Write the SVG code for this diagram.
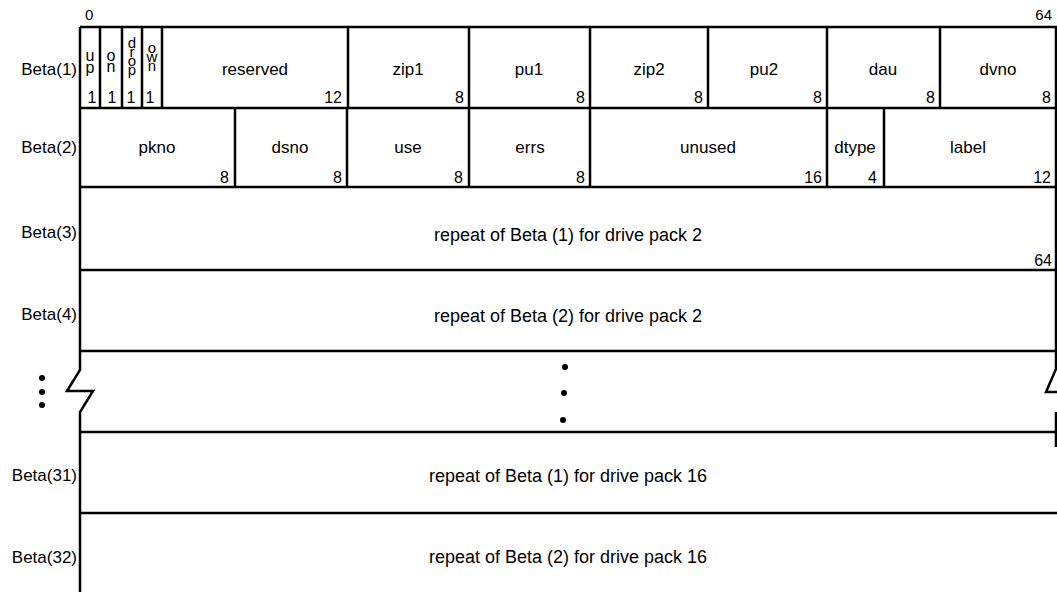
<svg xmlns="http://www.w3.org/2000/svg" width="1057" height="592" viewBox="0 0 1057 592">
<style>
  text { font-family: "Liberation Sans", Arial, sans-serif; fill: #000; }
  .lbl { font-size: 17px; text-anchor: middle; }
  .num { font-size: 16px; text-anchor: end; }
  .one { font-size: 16px; text-anchor: middle; }
  .row { font-size: 17px; text-anchor: end; }
  .rep { font-size: 18px; text-anchor: middle; }
  .stk { font-size: 16px; text-anchor: middle; }
  .stk2 { font-size: 15px; text-anchor: middle; }
  .ln { stroke: #000; stroke-width: 2.5; fill: none; stroke-linejoin: miter; }
  .dot { fill: #000; }
</style>
<rect width="1057" height="592" fill="#fff"/>

<g id="scale">
  <text x="85" y="20" style="font-size:15px">0</text>
  <text x="1052" y="20" class="num" style="font-size:15px">64</text>
</g>

<g id="row-labels">
  <text x="77" y="75" class="row">Beta(1)</text>
  <text x="77" y="153" class="row">Beta(2)</text>
  <text x="77" y="238" class="row">Beta(3)</text>
  <text x="77" y="320" class="row">Beta(4)</text>
  <text x="77" y="481" class="row">Beta(31)</text>
  <text x="77" y="563" class="row">Beta(32)</text>
</g>

<g id="connectors">
  <line class="ln" x1="80" y1="27" x2="1057" y2="27"/>
  <line class="ln" x1="80" y1="108" x2="1057" y2="108"/>
  <line class="ln" x1="80" y1="187" x2="1057" y2="187"/>
  <line class="ln" x1="80" y1="270" x2="1057" y2="270"/>
  <line class="ln" x1="80" y1="351" x2="1057" y2="351"/>
  <line class="ln" x1="80" y1="432" x2="1057" y2="432"/>
  <line class="ln" x1="80" y1="513" x2="1057" y2="513"/>
  <polyline class="ln" points="80,27 80,370 67,391 93,391 80,412 80,592"/>
  <polyline class="ln" points="1056,27 1056,369 1046,392 1060,392"/>
  <line class="ln" x1="1056" y1="412" x2="1056" y2="447"/>
  <line class="ln" x1="100" y1="27" x2="100" y2="108"/>
  <line class="ln" x1="122" y1="27" x2="122" y2="108"/>
  <line class="ln" x1="142" y1="27" x2="142" y2="108"/>
  <line class="ln" x1="162" y1="27" x2="162" y2="108"/>
  <line class="ln" x1="348" y1="27" x2="348" y2="108"/>
  <line class="ln" x1="469" y1="27" x2="469" y2="108"/>
  <line class="ln" x1="590" y1="27" x2="590" y2="108"/>
  <line class="ln" x1="708" y1="27" x2="708" y2="108"/>
  <line class="ln" x1="827" y1="27" x2="827" y2="108"/>
  <line class="ln" x1="940" y1="27" x2="940" y2="108"/>
  <line class="ln" x1="235" y1="108" x2="235" y2="187"/>
  <line class="ln" x1="347" y1="108" x2="347" y2="187"/>
  <line class="ln" x1="469" y1="108" x2="469" y2="187"/>
  <line class="ln" x1="590" y1="108" x2="590" y2="187"/>
  <line class="ln" x1="827" y1="108" x2="827" y2="187"/>
  <line class="ln" x1="884" y1="108" x2="884" y2="187"/>
</g>

<g id="f-up">
  <text class="stk"><tspan x="90" y="61">u</tspan><tspan x="90" y="73">p</tspan></text>
  <text x="92" y="103" class="one">1</text>
</g>
<g id="f-on">
  <text class="stk"><tspan x="111" y="61">o</tspan><tspan x="111" y="72">n</tspan></text>
  <text x="112" y="103" class="one">1</text>
</g>
<g id="f-drop">
  <text class="stk2"><tspan x="132" y="48">d</tspan><tspan x="132" y="57">r</tspan><tspan x="132" y="66">o</tspan><tspan x="132" y="75">p</tspan></text>
  <text x="131" y="103" class="one">1</text>
</g>
<g id="f-own">
  <text class="stk2"><tspan x="152" y="53">o</tspan><tspan x="152" y="62">w</tspan><tspan x="152" y="71">n</tspan></text>
  <text x="150" y="103" class="one">1</text>
</g>
<g id="f-reserved"><text x="255" y="75" class="lbl">reserved</text><text x="342" y="103" class="num">12</text></g>
<g id="f-zip1"><text x="408" y="75" class="lbl">zip1</text><text x="464" y="103" class="num">8</text></g>
<g id="f-pu1"><text x="529" y="75" class="lbl">pu1</text><text x="585" y="103" class="num">8</text></g>
<g id="f-zip2"><text x="649" y="75" class="lbl">zip2</text><text x="703" y="103" class="num">8</text></g>
<g id="f-pu2"><text x="764" y="75" class="lbl">pu2</text><text x="822" y="103" class="num">8</text></g>
<g id="f-dau"><text x="883" y="75" class="lbl">dau</text><text x="935" y="103" class="num">8</text></g>
<g id="f-dvno"><text x="998" y="75" class="lbl">dvno</text><text x="1051" y="103" class="num">8</text></g>

<g id="f-pkno"><text x="157" y="153" class="lbl">pkno</text><text x="229" y="183" class="num">8</text></g>
<g id="f-dsno"><text x="290" y="153" class="lbl">dsno</text><text x="342" y="183" class="num">8</text></g>
<g id="f-use"><text x="408" y="153" class="lbl">use</text><text x="463" y="183" class="num">8</text></g>
<g id="f-errs"><text x="530" y="153" class="lbl">errs</text><text x="585" y="183" class="num">8</text></g>
<g id="f-unused"><text x="708" y="153" class="lbl">unused</text><text x="822" y="183" class="num">16</text></g>
<g id="f-dtype"><text x="855" y="153" class="lbl">dtype</text><text x="877" y="183" class="num">4</text></g>
<g id="f-label"><text x="968" y="153" class="lbl">label</text><text x="1051" y="183" class="num">12</text></g>

<g id="r3"><text x="568" y="241" class="rep">repeat of Beta (1) for drive pack 2</text><text x="1052" y="266" class="num">64</text></g>
<g id="r4"><text x="568" y="322" class="rep">repeat of Beta (2) for drive pack 2</text></g>
<g id="ellipsis">
  <circle class="dot" cx="42" cy="378" r="3"/>
  <circle class="dot" cx="42" cy="392" r="3"/>
  <circle class="dot" cx="42" cy="405" r="3"/>
  <circle class="dot" cx="565" cy="367" r="3"/>
  <circle class="dot" cx="564" cy="393" r="3"/>
  <circle class="dot" cx="563" cy="420" r="3"/>
</g>
<g id="r31"><text x="568" y="482" class="rep">repeat of Beta (1) for drive pack 16</text></g>
<g id="r32"><text x="568" y="563" class="rep">repeat of Beta (2) for drive pack 16</text></g>
</svg>
